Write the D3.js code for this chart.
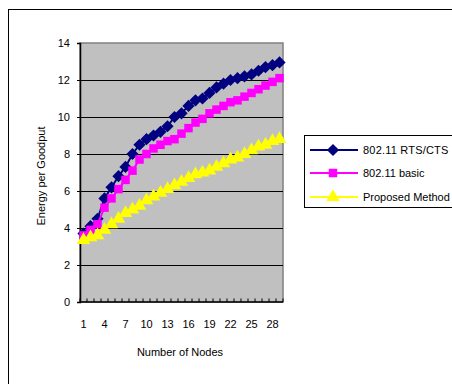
<!DOCTYPE html>
<html>
<head>
<meta charset="utf-8">
<script src="https://d3js.org/d3.v7.min.js"></script>
<style>
body { margin: 0; background: #fff; font-family: "Liberation Sans", Arial, sans-serif; }
svg { display: block; }
</style>
</head>
<body>
<svg width="452" height="384"></svg>
<script>
// number of nodes 1..29
var nodes = d3.range(1, 30);
var tickLabels = [1, 4, 7, 10, 13, 16, 19, 22, 25, 28];
var yTicks = [0, 2, 4, 6, 8, 10, 12, 14];

var rtsCts = [3.7, 4.1, 4.5, 5.6, 6.2, 6.8, 7.3, 8.0, 8.5, 8.8, 9.0, 9.2, 9.5, 10.0, 10.2,
              10.6, 10.9, 11.0, 11.3, 11.6, 11.8, 12.0, 12.1, 12.2, 12.3, 12.5, 12.7, 12.8, 12.95];
var basic = [3.6, 3.9, 4.2, 5.1, 5.6, 6.1, 6.6, 7.1, 7.7, 8.0, 8.3, 8.5, 8.7, 8.8, 9.1,
             9.4, 9.7, 9.9, 10.2, 10.4, 10.6, 10.8, 10.9, 11.1, 11.3, 11.5, 11.7, 11.9, 12.1];
var proposed = [3.35, 3.5, 3.6, 3.9, 4.2, 4.5, 4.8, 5.0, 5.2, 5.5, 5.7, 5.9, 6.1, 6.3, 6.5,
                6.7, 6.9, 7.0, 7.1, 7.3, 7.5, 7.7, 7.8, 8.0, 8.2, 8.4, 8.5, 8.7, 8.8];

var seriesNames = ["802.11 RTS/CTS", "802.11 basic", "Proposed Method"];
var seriesColors = ["#000080", "#ff00ff", "#ffff00"];

var series = [
  {name: seriesNames[0], values: rtsCts, color: seriesColors[0], sym: d3.symbolDiamond2, size: 95},
  {name: seriesNames[1], values: basic, color: seriesColors[1], sym: d3.symbolSquare, size: 72},
  {name: seriesNames[2], values: proposed, color: seriesColors[2], sym: d3.symbolTriangle, size: 80}
];

var svg = d3.select("svg");

// outer frame (runs off the picture on right and bottom)
svg.append("rect")
  .attr("x", 8.5).attr("y", 9.5)
  .attr("width", 460).attr("height", 400)
  .attr("fill", "none").attr("stroke", "#000").attr("stroke-width", 1);

var plotL = 80, plotR = 283, plotT = 43, plotB = 302;

var x = d3.scaleBand().domain(nodes).range([plotL, plotR]);
var y = d3.scaleLinear().domain([0, 14]).range([plotB, plotT]);

// plot background
svg.append("rect")
  .attr("x", plotL).attr("y", plotT)
  .attr("width", plotR - plotL).attr("height", plotB - plotT)
  .attr("fill", "#c0c0c0").attr("stroke", "#808080").attr("stroke-width", 1.5);

// gridlines
svg.append("g").selectAll("line")
  .data(yTicks.filter(function(d){ return d > 0 && d < 14; }))
  .join("line")
  .attr("x1", plotL).attr("x2", plotR)
  .attr("y1", function(d){ return Math.round(y(d)) + 0.5; })
  .attr("y2", function(d){ return Math.round(y(d)) + 0.5; })
  .attr("stroke", "#000").attr("stroke-width", 1);

// y axis
var yAxis = d3.axisLeft(y).tickValues(yTicks).tickSize(3).tickPadding(7);
var gy = svg.append("g").attr("transform", "translate(" + plotL + ",0)").call(yAxis);
gy.select(".domain").attr("stroke", "#000").attr("stroke-width", 1.5);
gy.selectAll("text").attr("font-size", 11).attr("font-family", "Liberation Sans, Arial, sans-serif").attr("fill", "#000");

// x axis: line, tick marks between categories (inward), labels every third node
svg.append("line")
  .attr("x1", plotL).attr("x2", plotR)
  .attr("y1", plotB).attr("y2", plotB)
  .attr("stroke", "#000").attr("stroke-width", 1.5);

svg.append("g").selectAll("line")
  .data(nodes.concat([30]))
  .join("line")
  .attr("x1", function(d){ return d <= 29 ? x(d) : plotR; })
  .attr("x2", function(d){ return d <= 29 ? x(d) : plotR; })
  .attr("y1", plotB).attr("y2", plotB - 3.5)
  .attr("stroke", "#000").attr("stroke-width", 1);

svg.append("g").selectAll("text")
  .data(tickLabels)
  .join("text")
  .attr("x", function(d){ return x(d) + x.bandwidth() / 2; })
  .attr("y", 328)
  .attr("text-anchor", "middle")
  .attr("font-size", 11)
  .text(function(d){ return d; });

// axis titles
svg.append("text")
  .attr("transform", "translate(45,176) rotate(-90)")
  .attr("text-anchor", "middle")
  .attr("font-size", 11)
  .text("Energy per Goodput");

svg.append("text")
  .attr("x", 180).attr("y", 356)
  .attr("text-anchor", "middle")
  .attr("font-size", 11)
  .text("Number of Nodes");

// series
var line = d3.line()
  .x(function(d, i){ return x(nodes[i]) + x.bandwidth() / 2; })
  .y(function(d){ return y(d); });

series.forEach(function(s) {
  var g = svg.append("g");
  g.append("path")
    .attr("d", line(s.values))
    .attr("fill", "none")
    .attr("stroke", s.color)
    .attr("stroke-width", 2);
  g.selectAll("path.m")
    .data(s.values)
    .join("path")
    .attr("class", "m")
    .attr("transform", function(d, i){ return "translate(" + (x(nodes[i]) + x.bandwidth() / 2) + "," + y(d) + ")"; })
    .attr("d", d3.symbol().type(s.sym).size(s.size))
    .attr("fill", s.color);
});

// legend
var legend = svg.append("g");
legend.append("rect")
  .attr("x", 304.5).attr("y", 135.5)
  .attr("width", 160).attr("height", 72)
  .attr("fill", "#fff").attr("stroke", "#000").attr("stroke-width", 1);

var legendY = [150, 173, 197];
series.forEach(function(s, i) {
  var ly = legendY[i];
  legend.append("line")
    .attr("x1", 310).attr("x2", 358)
    .attr("y1", ly).attr("y2", ly)
    .attr("stroke", s.color).attr("stroke-width", 2);
  legend.append("path")
    .attr("transform", "translate(333," + ly + ")")
    .attr("d", d3.symbol().type(s.sym).size(s.size))
    .attr("fill", s.color);
  legend.append("text")
    .attr("x", 363).attr("y", ly + 4)
    .attr("font-size", 11)
    .attr("letter-spacing", i === 0 ? 0.2 : 0)
    .text(s.name);
});
</script>
</body>
</html>
